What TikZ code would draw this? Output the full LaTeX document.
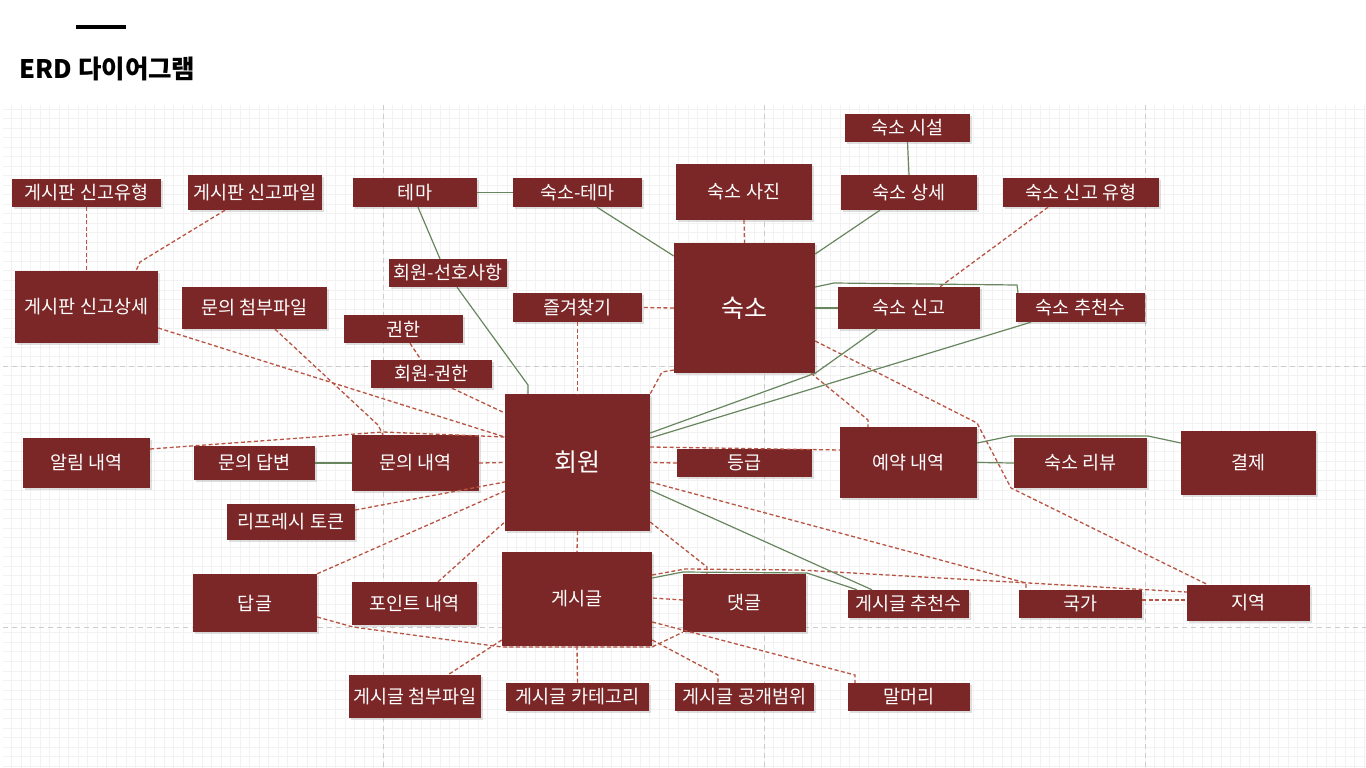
\documentclass[tikz,border=0pt]{standalone}
\usepackage{fontspec}
\setmainfont{Noto Sans CJK KR}
\usetikzlibrary{positioning, shadows}
\definecolor{boxred}{RGB}{123,38,39}
\definecolor{relred}{RGB}{184,84,66}
\definecolor{relgreen}{RGB}{104,134,94}
\definecolor{gridgray}{RGB}{242,242,242}
\tikzset{
    x=1pt, y=-1pt, % pixel units, y going down
    entity/.style={fill=boxred, text=white, inner sep=0pt,
        font=\fontsize{18.5}{22}\selectfont,
        drop shadow={shadow xshift=1.5pt, shadow yshift=-1.5pt, opacity=0.25}}, % Entity boxes
    big/.style={font=\fontsize{25}{28}\selectfont},
    rel/.style={draw=relred, dash pattern=on 4pt off 2.5pt, line width=1.3pt}, % Non-identifying
    idrel/.style={draw=relgreen, line width=1.2pt}, % Identifying
    gridline/.style={draw=gridgray, line width=0.6pt},
    divider/.style={draw=gray!40, dash pattern=on 5pt off 4pt, line width=0.9pt},
}

\begin{document}
\begin{tikzpicture}
    \useasboundingbox (0,0) rectangle (1366,768);
    \fill[white] (0,0) rectangle (1366,768);

    \foreach \i in {-39,...,103}
        \draw[gridline] ({383+\i*9.525},105) -- ({383+\i*9.525},768);
    \foreach \j in {-27,...,42}
        \draw[gridline] (3,{366+\j*9.525}) -- (1366,{366+\j*9.525});
    \foreach \xx in {383,764,1145}
        \draw[divider] (\xx,105) -- (\xx,768);
    \foreach \yy in {366,627}
        \draw[divider] (3,\yy) -- (1366,\yy);

    \draw[line width=4pt] (76,27) -- (126,27);
    \node[anchor=west, font=\fontsize{25.5}{28}\selectfont\bfseries] (title) at (16,69) {ERD 다이어그램};

    \node[entity, minimum width=149, minimum height=28] (sinType) at (86.5,193) {게시판 신고유형};
    \node[entity, minimum width=134, minimum height=35] (sinFile) at (255,192.5) {게시판 신고파일};
    \node[entity, minimum width=124, minimum height=29] (thema) at (415,192.5) {테마};
    \node[entity, minimum width=129, minimum height=29] (stayThema) at (577.5,192.5) {숙소-테마};
    \node[entity, minimum width=136, minimum height=56] (stayPhoto) at (744,192) {숙소 사진};
    \node[entity, minimum width=125, minimum height=28] (stayFac) at (907.5,128) {숙소 시설};
    \node[entity, minimum width=136, minimum height=35] (stayDetail) at (909,192.5) {숙소 상세};
    \node[entity, minimum width=156, minimum height=29] (stayRepType) at (1081,192.5) {숙소 신고 유형};

    \node[entity, minimum width=143, minimum height=72] (sinDetail) at (86.5,307) {게시판 신고상세};
    \node[entity, minimum width=118, minimum height=28] (prefer) at (448,273) {회원-선호사항};
    \node[entity, minimum width=129, minimum height=29] (fav) at (577.5,307.5) {즐겨찾기};
    \node[entity, big, minimum width=141, minimum height=130] (stay) at (744.5,308) {숙소};
    \node[entity, minimum width=142, minimum height=42] (stayRep) at (909,308) {숙소 신고};
    \node[entity, minimum width=129, minimum height=29] (stayRec) at (1080.5,307.5) {숙소 추천수};
    \node[entity, minimum width=145, minimum height=42] (qFile) at (254.5,308) {문의 첨부파일};
    \node[entity, minimum width=119, minimum height=28] (auth) at (403.5,329) {권한};
    \node[entity, minimum width=121, minimum height=28] (memAuth) at (431.5,374) {회원-권한};

    \node[entity, big, minimum width=145, minimum height=137] (member) at (577.5,462.5) {회원};
    \node[entity, minimum width=127, minimum height=50] (alarm) at (86.5,463) {알림 내역};
    \node[entity, minimum width=121, minimum height=34] (qAns) at (254.5,463) {문의 답변};
    \node[entity, minimum width=127, minimum height=56] (qList) at (415.5,463) {문의 내역};
    \node[entity, minimum width=135, minimum height=28] (grade) at (744.5,463) {등급};
    \node[entity, minimum width=137, minimum height=71] (resv) at (908.5,462.5) {예약 내역};
    \node[entity, minimum width=133, minimum height=50] (review) at (1080.5,463) {숙소 리뷰};
    \node[entity, minimum width=135, minimum height=64] (pay) at (1248.5,463) {결제};
    \node[entity, minimum width=128, minimum height=36] (token) at (291,522) {리프레시 토큰};

    \node[entity, minimum width=124, minimum height=58] (reply) at (255,603) {답글};
    \node[entity, minimum width=125, minimum height=43] (point) at (414.5,603.5) {포인트 내역};
    \node[entity, minimum width=150, minimum height=94] (post) at (577,599) {게시글};
    \node[entity, minimum width=123, minimum height=58] (cmt) at (744.5,603) {댓글};
    \node[entity, minimum width=121, minimum height=28] (postRec) at (908.5,604) {게시글 추천수};
    \node[entity, minimum width=123, minimum height=28] (country) at (1080.5,604) {국가};
    \node[entity, minimum width=123, minimum height=36] (region) at (1248.5,603) {지역};
    \node[entity, minimum width=132, minimum height=43] (postFile) at (415,696.5) {게시글 첨부파일};
    \node[entity, minimum width=143, minimum height=28] (postCat) at (577.5,697) {게시글 카테고리};
    \node[entity, minimum width=139, minimum height=28] (postScope) at (744.5,697) {게시글 공개범위};
    \node[entity, minimum width=122, minimum height=28] (head) at (909,697) {말머리};

    \draw[rel] (sinType.south) -- (sinDetail.north);
    \draw[rel] (sinFile.south -| 225,0) -- (140,262) -- (sinDetail.north -| 136,0);
    \draw[rel] (sinDetail.east |- 0,328) -- (member.west |- 0,437);
    \draw[rel] (alarm.east |- 0,449) -- (383,432) -- (member.west |- 0,437);
    \draw[rel] (qFile.south -| 275,0) -- (378,425) -- (qList.north -| 383,0);
    \draw[rel] (auth.south -| 410,0) -- (memAuth.north -| 421,0);
    \draw[rel] (memAuth.south -| 452,0) -- (member.west |- 0,413);
    \draw[rel] (qList.east) -- (member.west);
    \draw[rel] (token.east |- 0,510) -- (member.west |- 0,482);
    \draw[rel] (reply.north east) -- (member.west |- 0,491);
    \draw[rel] (point.north -| 438,0) -- (member.west |- 0,522);
    \draw[rel] (fav.south) -- (member.north);
    \draw[rel] (stay.west) -- (fav.east);
    \draw[rel] (stay.west |- 0,370) -- (662,372) -- (member.north east);
    \draw[rel] (stayPhoto.south) -- (stay.north);
    \draw[rel] (stayRepType.south -| 1048,0) -- (stayRep.north -| 940,0);
    \draw[rel] (stay.east |- 0,341) -- (977,423) -- (1011,488) -- (region.north -| 1208,0);
    \draw[rel] (stay.south -| 811,0) -- (868,420) -- (resv.north -| 868,0);
    \draw[rel] (member.east |- 0,447) -- (resv.west |- 0,450);
    \draw[rel] (grade.west) -- (member.east);
    \draw[rel] (member.east |- 0,482) -- (1026,583) -- (country.north -| 1026,0);
    \draw[rel] (member.east |- 0,522) -- (707,567) -- (cmt.north -| 707,0);
    \draw[rel] (member.south) -- (post.north);
    \draw[rel] (cmt.west |- 0,600) -- (post.east |- 0,598);
    \draw[rel] (post.east |- 0,575) -- (685,569) -- (800,570) -- (region.west |- 0,592);
    \draw[rel] (country.east |- 0,600) -- (region.west |- 0,600);
    \draw[rel] (post.east |- 0,622) -- (855,675) -- (head.north -| 855,0);
    \draw[rel] (post.east |- 0,640) -- (718,675) -- (postScope.north -| 718,0);
    \draw[rel] (reply.east |- 0,617) -- (353,627) -- (502,647) -- (652,647) -- (cmt.south west);
    \draw[rel] (post.south) -- (postCat.north);
    \draw[rel] (post.west |- 0,640) -- (postFile.north -| 448,0);

    \draw[idrel] (stayFac.south) -- (stayDetail.north);
    \draw[idrel] (stayDetail.south -| 880,0) -- (stay.east |- 0,254);
    \draw[idrel] (stayThema.south -| 597,0) -- (stay.west |- 0,256);
    \draw[idrel] (stayThema.west) -- (thema.east);
    \draw[idrel] (thema.south -| 418,0) -- (prefer.north -| 440,0);
    \draw[idrel] (prefer.south -| 457,0) -- (528,385) -- (member.north -| 528,0);
    \draw[idrel] (stay.east |- 0,287) -- (834,283) -- (1017,285) -- (stayRec.north -| 1018,0);
    \draw[idrel] (stay.east) -- (stayRep.west);
    \draw[idrel] (stayRep.south -| 877,0) -- (stay.south east) -- (member.east |- 0,433);
    \draw[idrel] (stayRec.south -| 1031,0) -- (member.east |- 0,438);
    \draw[idrel] (resv.east |- 0,443) -- (1011,436) -- (1148,436) -- (pay.west |- 0,443);
    \draw[idrel] (resv.east) -- (review.west);
    \draw[idrel] (member.east |- 0,490) -- (postRec.north -| 872,0);
    \draw[idrel] (post.east |- 0,578) -- (683,572) -- (807,573) -- (postRec.north -| 857,0);
    \draw[idrel] (qAns.east) -- (qList.west);
\end{tikzpicture}
\end{document}
